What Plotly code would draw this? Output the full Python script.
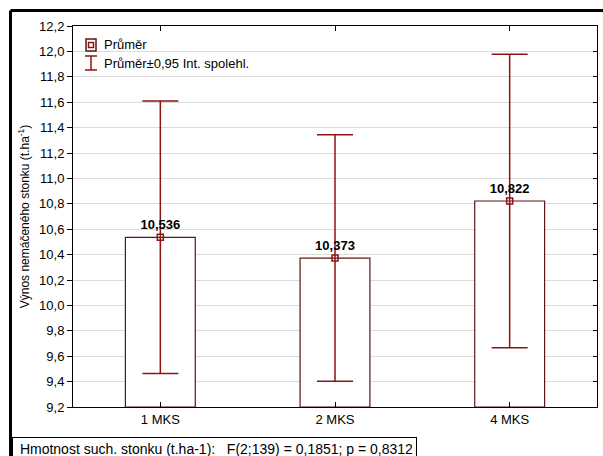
import plotly.graph_objects as go

categories = ["1 MKS", "2 MKS", "4 MKS"]
means = [10.536, 10.373, 10.822]
ci_half = [1.073, 0.970, 1.155]
y_ticks = [9.2, 9.4, 9.6, 9.8, 10.0, 10.2, 10.4, 10.6, 10.8, 11.0, 11.2, 11.4, 11.6, 11.8, 12.0, 12.2]
legend_labels = ["Průměr", "Průměr±0,95 Int. spolehl."]
y_title = "Výnos nemáčeného stonku (t.ha<sup>-1</sup>)"
note = "Hmotnost such. stonku (t.ha-1):\u00a0\u00a0\u00a0F(2;139) = 0,1851; p = 0,8312"

BAR_EDGE = "#5c1616"
ERR = "#8e1212"
FONT = "Liberation Sans, Arial, sans-serif"

W, H = 603, 456
ML, MR, MT, MB = 73, 6, 26, 49
PW, PH = W - ML - MR, H - MT - MB

def px(x):
    return (x - ML) / PW

def py(y):
    return (H - MB - y) / PH

fig = go.Figure()
fig.add_trace(go.Bar(
    x=categories, y=[m - 9.2 for m in means], base=9.2, width=0.4,
    marker=dict(color="white", line=dict(color=BAR_EDGE, width=1.2)),
    showlegend=False, hoverinfo="skip",
))
fig.add_trace(go.Scatter(
    x=categories, y=means, mode="markers+text",
    marker=dict(symbol="square-open", size=6, color=ERR, line=dict(width=1.5, color=ERR)),
    error_y=dict(type="data", array=ci_half, symmetric=True, color=ERR, thickness=1.5, width=18),
    texttemplate="<b>%{y:.3f}</b>", textposition="top center",
    textfont=dict(family=FONT, size=13, color="black"),
    showlegend=False,
))
fig.add_trace(go.Scatter(
    x=categories, y=means, yaxis="y2", mode="markers",
    marker=dict(opacity=0), showlegend=False, hoverinfo="skip",
))

shapes = []
# outer frame
shapes.append(dict(type="line", xref="paper", yref="paper", x0=px(10.5), x1=px(W + 5), y0=py(10.5), y1=py(10.5),
                   line=dict(color="black", width=3)))
shapes.append(dict(type="line", xref="paper", yref="paper", x0=px(10.5), x1=px(10.5), y0=py(10.5), y1=py(H + 5),
                   line=dict(color="black", width=3)))
# legend icon 1: box with mean marker
shapes.append(dict(type="rect", xref="paper", yref="paper", x0=px(86), x1=px(96), y0=py(39), y1=py(51),
                   line=dict(color=BAR_EDGE, width=1.5), fillcolor="white"))
shapes.append(dict(type="rect", xref="paper", yref="paper", x0=px(88.5), x1=px(93.5), y0=py(42.5), y1=py(47.5),
                   line=dict(color=ERR, width=1.5), fillcolor="white"))
# legend icon 2: error bar
shapes.append(dict(type="line", xref="paper", yref="paper", x0=px(91), x1=px(91), y0=py(56), y1=py(70),
                   line=dict(color=ERR, width=1.5)))
shapes.append(dict(type="line", xref="paper", yref="paper", x0=px(85), x1=px(97), y0=py(56), y1=py(56),
                   line=dict(color=ERR, width=1.5)))
shapes.append(dict(type="line", xref="paper", yref="paper", x0=px(85), x1=px(97), y0=py(70), y1=py(70),
                   line=dict(color=ERR, width=1.5)))

annotations = []
for i, lab in enumerate(legend_labels):
    annotations.append(dict(xref="paper", yref="paper", x=px(102), y=py(45 + 18 * i), xanchor="left", yanchor="middle",
                            text=lab, showarrow=False, font=dict(family=FONT, size=13, color="black")))
annotations.append(dict(xref="paper", yref="paper", x=px(12), y=py(437), xanchor="left", yanchor="top",
                        text="\u00a0" + note, showarrow=False, bordercolor="black", borderwidth=1, borderpad=3,
                        bgcolor="white", font=dict(family=FONT, size=14, color="black")))

fig.update_layout(
    width=W, height=H, margin=dict(l=ML, r=MR, t=MT, b=MB),
    paper_bgcolor="white", plot_bgcolor="white",
    separators=", ",
    font=dict(family=FONT, size=13, color="black"),
    showlegend=False,
    shapes=shapes, annotations=annotations,
    xaxis=dict(range=[-0.5, 2.5], showline=True, linecolor="black", linewidth=1, mirror="ticks",
               ticks="inside", ticklen=5, tickcolor="black", showgrid=False,
               tickfont=dict(family=FONT, size=13)),
    yaxis=dict(range=[9.2, 12.2], tickvals=y_ticks, tickformat=".1f", showline=True, linecolor="black",
               linewidth=1, mirror=True, ticks="outside", ticklen=5, tickcolor="black",
               showgrid=True, gridcolor="#dcdcdc", gridwidth=1, zeroline=False,
               tickfont=dict(family=FONT, size=13),
               title=dict(text=y_title, font=dict(family=FONT, size=12), standoff=6)),
    yaxis2=dict(range=[9.2, 12.2], tickvals=y_ticks, overlaying="y", side="right", showticklabels=False,
                ticks="inside", ticklen=4, tickcolor="black", showgrid=False, zeroline=False, showline=False),
)

fig.write_html("out.html", config={"displayModeBar": False},
               post_script="document.body.style.margin='0';document.body.style.padding='0';")
